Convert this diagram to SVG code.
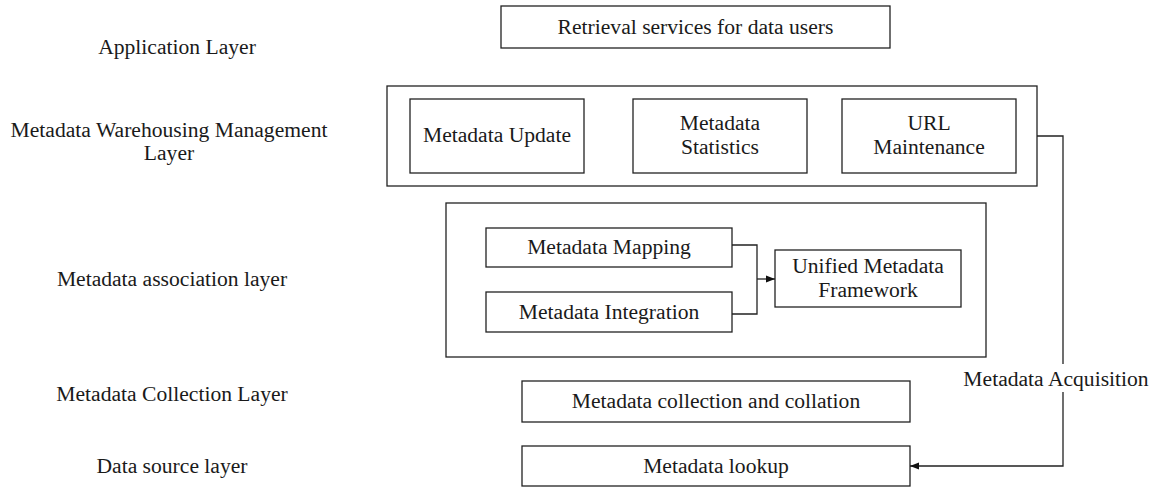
<svg xmlns="http://www.w3.org/2000/svg" width="1156" height="487" viewBox="0 0 1156 487">
<style>
text{font-family:"Liberation Serif","DejaVu Serif",serif;font-size:21.6px;fill:#1a1a1a;text-anchor:middle;dominant-baseline:central}
.box{fill:#fff;stroke:#222;stroke-width:1.3}
.cn{fill:none;stroke:#222;stroke-width:1.3}
</style>
<defs>
<marker id="ah" viewBox="0 0 10 10" refX="10" refY="5" markerWidth="9" markerHeight="9" markerUnits="userSpaceOnUse" orient="auto">
<path d="M0,1 L10,5 L0,9 Z" fill="#111"/>
</marker>
</defs>
<g id="labels">
<text x="177" y="47">Application Layer</text>
<text x="169" y="130">Metadata Warehousing Management</text>
<text x="169" y="153">Layer</text>
<text x="172" y="279">Metadata association layer</text>
<text x="172" y="394">Metadata Collection Layer</text>
<text x="172" y="466">Data source layer</text>
</g>
<g id="retrieval"><rect class="box" x="501" y="6" width="389" height="42"/><text x="695.5" y="27">Retrieval services for data users</text></g>
<g id="warehouse"><rect class="box" x="387" y="86" width="650" height="100"/></g>
<g id="update"><rect class="box" x="410" y="99" width="174" height="74"/><text x="497" y="135">Metadata Update</text></g>
<g id="statistics"><rect class="box" x="633" y="99" width="174" height="74"/><text x="720" y="123">Metadata</text><text x="720" y="147">Statistics</text></g>
<g id="url"><rect class="box" x="842" y="99" width="174" height="74"/><text x="929" y="123">URL</text><text x="929" y="147">Maintenance</text></g>
<g id="association"><rect class="box" x="446" y="203" width="540" height="154"/></g>
<g id="mapping"><rect class="box" x="486" y="228" width="246" height="39"/><text x="609" y="247">Metadata Mapping</text></g>
<g id="integration"><rect class="box" x="486" y="292" width="246" height="40"/><text x="609" y="312">Metadata Integration</text></g>
<g id="unified"><rect class="box" x="775" y="250" width="186" height="57"/><text x="868" y="266">Unified Metadata</text><text x="868" y="290">Framework</text></g>
<g id="collection"><rect class="box" x="522" y="381" width="388" height="41"/><text x="716" y="401">Metadata collection and collation</text></g>
<g id="lookup"><rect class="box" x="522" y="446" width="388" height="40"/><text x="716" y="466">Metadata lookup</text></g>
<g id="connectors">
<path class="cn" d="M732,245 H757 V314 H732"/>
<path class="cn" d="M757,279 H775" marker-end="url(#ah)"/>
<path class="cn" d="M1037,136 H1063 V364"/>
<path class="cn" d="M1063,392 V466 H910" marker-end="url(#ah)"/>
<text x="1056" y="379">Metadata Acquisition</text>
</g>
</svg>
